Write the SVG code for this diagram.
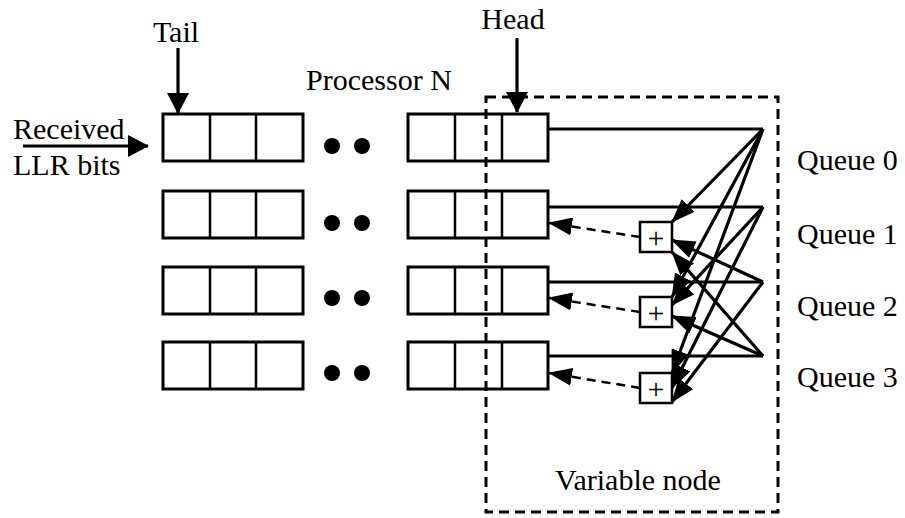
<svg xmlns="http://www.w3.org/2000/svg" width="905" height="518" viewBox="0 0 905 518">
<defs>
<marker id="ah" viewBox="0 0 24 18" refX="23" refY="9" markerWidth="24" markerHeight="18" markerUnits="userSpaceOnUse" orient="auto"><path d="M0,0 L24,9 L0,18 z" fill="#000"/></marker>
<marker id="big" viewBox="0 0 21 22" refX="20" refY="11" markerWidth="21" markerHeight="22" markerUnits="userSpaceOnUse" orient="auto"><path d="M0,0 L21,11 L0,22 z" fill="#000"/></marker>
</defs>
<style>
.cell{fill:#fff;stroke:#000;stroke-width:3}
.dv{stroke:#000;stroke-width:2.5}
.t{font-family:'Liberation Serif',serif;font-size:30px;fill:#000}
.p{font-family:'Liberation Serif',serif;font-size:30px;fill:#000;text-anchor:middle}
.w{stroke:#000;stroke-width:3.2;fill:none}
.wa{stroke:#000;stroke-width:3.2;fill:none;marker-end:url(#ah)}
.d{stroke:#000;stroke-width:2.5;fill:none;stroke-dasharray:9 6;marker-end:url(#ah)}
.pb{fill:#fff;stroke:#000;stroke-width:2.5}
.dot{fill:#000}
</style>
<rect width="905" height="518" fill="#fff"/>

<g id="labels">
<text class="t" x="176" y="42" text-anchor="middle">Tail</text>
<text class="t" x="513" y="29" text-anchor="middle">Head</text>
<text class="t" x="306" y="90">Processor N</text>
<text class="t" x="13" y="139">Received</text>
<text class="t" x="13" y="175">LLR bits</text>
</g>

<g id="tail-queue-0"><rect class="cell" x="163" y="114" width="140" height="47"/><line class="dv" x1="210" y1="114" x2="210" y2="161"/><line class="dv" x1="256" y1="114" x2="256" y2="161"/></g>
<g id="tail-queue-1"><rect class="cell" x="163" y="191" width="140" height="47"/><line class="dv" x1="210" y1="191" x2="210" y2="238"/><line class="dv" x1="256" y1="191" x2="256" y2="238"/></g>
<g id="tail-queue-2"><rect class="cell" x="163" y="267" width="140" height="47"/><line class="dv" x1="210" y1="267" x2="210" y2="314"/><line class="dv" x1="256" y1="267" x2="256" y2="314"/></g>
<g id="tail-queue-3"><rect class="cell" x="163" y="342" width="140" height="47"/><line class="dv" x1="210" y1="342" x2="210" y2="389"/><line class="dv" x1="256" y1="342" x2="256" y2="389"/></g>

<g id="dots">
<circle class="dot" cx="332" cy="146" r="8"/><circle class="dot" cx="362" cy="146" r="8"/>
<circle class="dot" cx="332" cy="223" r="8"/><circle class="dot" cx="362" cy="223" r="8"/>
<circle class="dot" cx="332" cy="298" r="8"/><circle class="dot" cx="362" cy="298" r="8"/>
<circle class="dot" cx="332" cy="373" r="8"/><circle class="dot" cx="362" cy="373" r="8"/>
</g>

<g id="head-queue-0"><rect class="cell" x="408" y="114" width="140" height="47"/><line class="dv" x1="455" y1="114" x2="455" y2="161"/><line class="dv" x1="502" y1="114" x2="502" y2="161"/></g>
<g id="head-queue-1"><rect class="cell" x="408" y="191" width="140" height="47"/><line class="dv" x1="455" y1="191" x2="455" y2="238"/><line class="dv" x1="502" y1="191" x2="502" y2="238"/></g>
<g id="head-queue-2"><rect class="cell" x="408" y="267" width="140" height="47"/><line class="dv" x1="455" y1="267" x2="455" y2="314"/><line class="dv" x1="502" y1="267" x2="502" y2="314"/></g>
<g id="head-queue-3"><rect class="cell" x="408" y="342" width="140" height="47"/><line class="dv" x1="455" y1="342" x2="455" y2="389"/><line class="dv" x1="502" y1="342" x2="502" y2="389"/></g>

<g id="connectors">
<path class="w" d="M23,146 H148" marker-end="url(#big)"/>
<path class="w" d="M178,48 V113" marker-end="url(#big)"/>
<path class="w" d="M517,38 V112" marker-end="url(#big)"/>
<path class="w" d="M548,129 H763 M548,207 H763 M548,282 H763 M548,356 H763"/>
<path class="wa" d="M763,129 L672,222"/>
<path class="wa" d="M763,129 L672,297"/>
<path class="wa" d="M763,129 L672,373"/>
<path class="wa" d="M763,207 L672,305"/>
<path class="wa" d="M763,207 L672,388"/>
<path class="wa" d="M763,282 L672,240"/>
<path class="wa" d="M763,282 L672,402"/>
<path class="wa" d="M763,356 L672,252"/>
<path class="wa" d="M763,356 L672,316"/>
<path class="d" d="M640,237 L549,223"/>
<path class="d" d="M640,312 L549,298"/>
<path class="d" d="M640,388 L549,373"/>
</g>

<g id="adder-1"><rect class="pb" x="640" y="222" width="32" height="30"/><text class="p" x="656" y="248">+</text></g>
<g id="adder-2"><rect class="pb" x="640" y="297" width="32" height="30"/><text class="p" x="656" y="323">+</text></g>
<g id="adder-3"><rect class="pb" x="640" y="373" width="32" height="30"/><text class="p" x="656" y="399">+</text></g>

<g id="variable-node">
<rect x="486" y="97" width="292" height="415" fill="none" stroke="#000" stroke-width="3" stroke-dasharray="10 6"/>
<text class="t" x="638" y="490" text-anchor="middle">Variable node</text>
</g>

<g id="queue-labels">
<text class="t" x="797" y="170">Queue 0</text>
<text class="t" x="797" y="244">Queue 1</text>
<text class="t" x="797" y="316">Queue 2</text>
<text class="t" x="797" y="387">Queue 3</text>
</g>
</svg>
